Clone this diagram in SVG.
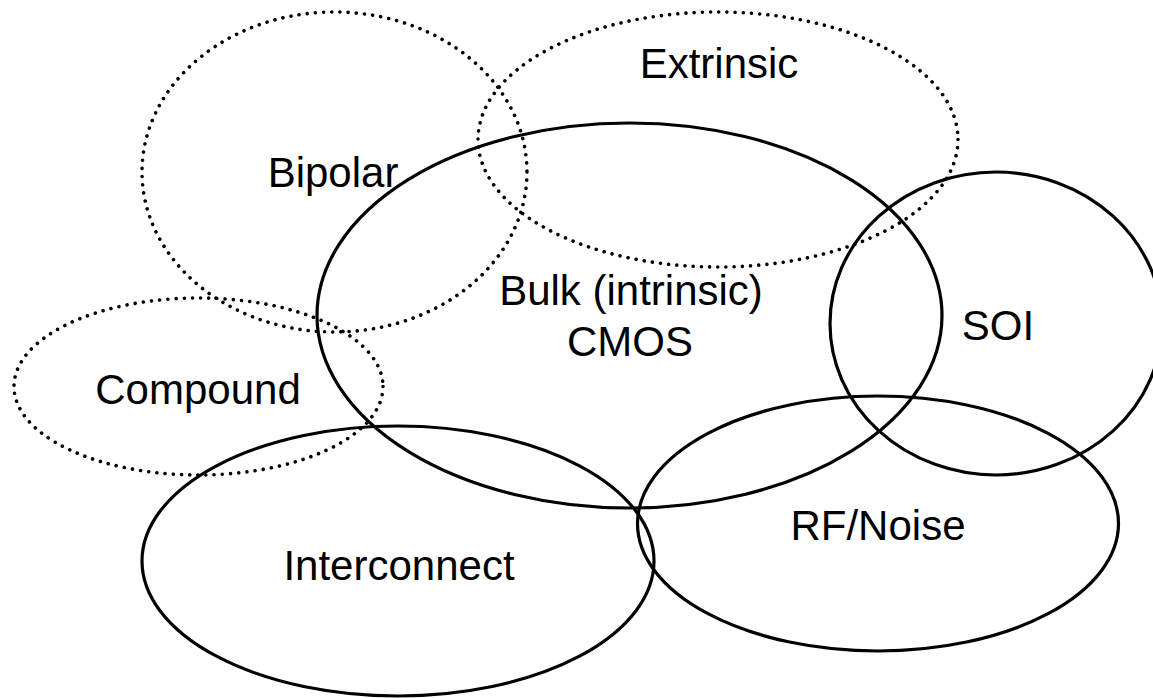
<svg xmlns="http://www.w3.org/2000/svg" width="1153" height="698" viewBox="0 0 1153 698">
<style>
.solid{fill:none;stroke:#000;stroke-width:3.2}
.dot{fill:none;stroke:#000;stroke-width:3.6;stroke-linecap:round;stroke-dasharray:0.01 8.2}
.lbl{font-family:"Liberation Sans",Arial,sans-serif;font-size:42px;fill:#000;text-anchor:middle}
</style>
<rect width="1153" height="698" fill="#fff"/>
<g id="bipolar">
<ellipse class="dot" cx="334.5" cy="172" rx="192.5" ry="160"/>
<text class="lbl" x="333" y="187">Bipolar</text>
</g>
<g id="extrinsic">
<ellipse class="dot" cx="718" cy="139.5" rx="240" ry="127.5"/>
<text class="lbl" x="719" y="78">Extrinsic</text>
</g>
<g id="compound">
<ellipse class="dot" cx="198.5" cy="386.5" rx="184.5" ry="88.5"/>
<text class="lbl" x="198" y="404">Compound</text>
</g>
<g id="bulk">
<ellipse class="solid" cx="629.5" cy="315.5" rx="312.5" ry="192.5"/>
<text class="lbl" x="631" y="305">Bulk (intrinsic)</text>
<text class="lbl" x="630" y="356">CMOS</text>
</g>
<g id="soi">
<ellipse class="solid" cx="996" cy="323.5" rx="166" ry="151.5"/>
<text class="lbl" x="998" y="340">SOI</text>
</g>
<g id="interconnect">
<ellipse class="solid" cx="398" cy="561" rx="256" ry="135"/>
<text class="lbl" x="399" y="580">Interconnect</text>
</g>
<g id="rfnoise">
<ellipse class="solid" cx="878" cy="523.5" rx="240.5" ry="127.5"/>
<text class="lbl" x="878" y="540">RF/Noise</text>
</g>
<g id="connectors"></g>
</svg>
